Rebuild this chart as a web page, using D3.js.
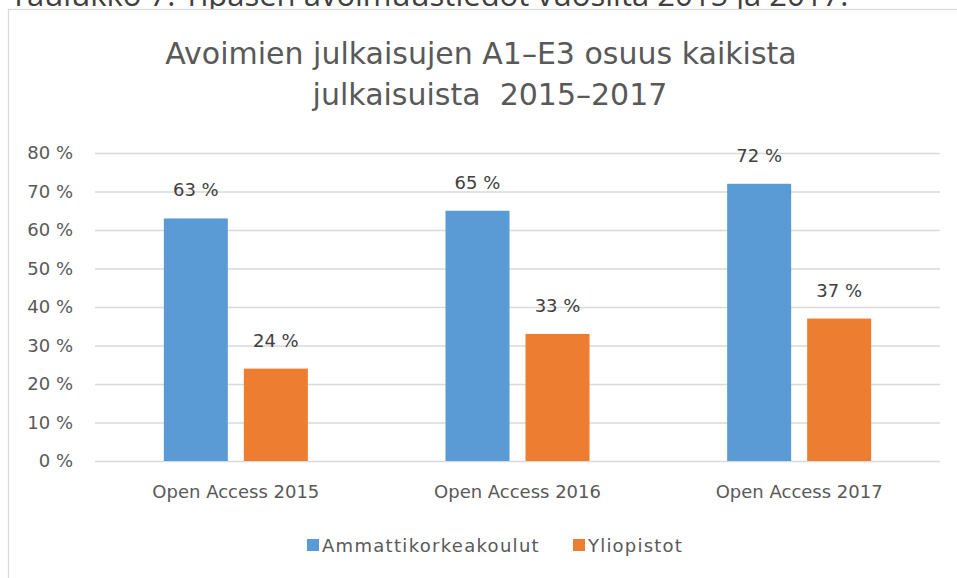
<!DOCTYPE html>
<html><head><meta charset="utf-8">
<script src="https://cdn.jsdelivr.net/npm/d3@7"></script>
<style>
html,body{margin:0;padding:0;background:#fff;overflow:hidden;}
svg{display:block;}
</style></head>
<body>
<svg id="c" width="957" height="578"></svg>
<script>
const categories = ["Open Access 2015", "Open Access 2016", "Open Access 2017"];
const seriesNames = ["Ammattikorkeakoulut", "Yliopistot"];
const amk = [63, 65, 72];
const yliopistot = [24, 33, 37];
const yTicks = [0, 10, 20, 30, 40, 50, 60, 70, 80];
const colors = ["#5b9bd5", "#ed7d31"];
const titleLines = ["Avoimien julkaisujen A1–E3 osuus kaikista", "julkaisuista  2015–2017"];
const caption = "Taulukko 7. Tipasen avoimuustiedot vuosilta 2015 ja 2017.";

const series = [amk, yliopistot];
const font = "'DejaVu Sans', sans-serif";
const svg = d3.select("#c");

// caption partially cut off at top (as in the source screenshot)
svg.append("text").attr("x", 10).attr("y", 6)
  .attr("font-family", "'Open Sans', sans-serif").attr("font-size", 31)
  .attr("fill", "#404040").text(caption);

// chart frame
svg.append("rect").attr("x", 8.5).attr("y", 9.5).attr("width", 960).attr("height", 600)
  .attr("fill", "#fff").attr("stroke", "#d9d9d9").attr("stroke-width", 1.2);

// title
svg.append("g").selectAll("text").data(titleLines).join("text")
  .attr("x", (d, i) => i === 0 ? 481 : 490)
  .attr("y", (d, i) => 64 + i * 41)
  .attr("text-anchor", "middle")
  .attr("font-family", font).attr("font-size", 30).attr("fill", "#595959")
  .style("white-space", "pre")
  .text(d => d);

const pL = 95, pR = 940, pT = 153, pB = 461;
const x0 = d3.scaleBand().domain(categories).range([pL, pR]).paddingInner(0).paddingOuter(0);
const x1 = d3.scaleBand().domain(seriesNames).range([0, x0.bandwidth()]).paddingInner(0.2).paddingOuter(0.86);
const y = d3.scaleLinear().domain([0, 80]).range([pB, pT]);

// gridlines + y labels
const yAxis = d3.axisLeft(y).tickValues(yTicks).tickSize(-(pR - pL)).tickPadding(22)
  .tickFormat(d => d + " %");
const gy = svg.append("g").attr("transform", `translate(${pL},0)`).call(yAxis);
gy.select(".domain").remove();
gy.selectAll(".tick line").attr("stroke", "#d9d9d9").attr("stroke-width", 1.5);
gy.selectAll(".tick text").attr("font-family", font).attr("font-size", 18).attr("fill", "#595959");

// bars
const groups = svg.append("g").selectAll("g").data(categories).join("g")
  .attr("transform", d => `translate(${x0(d)},0)`);
const cells = (d, i) => seriesNames.map((s, j) => ({s, v: series[j][i], j}));
groups.selectAll("rect").data(cells).join("rect")
  .attr("x", d => x1(d.s)).attr("width", x1.bandwidth())
  .attr("y", d => y(d.v)).attr("height", d => y(0) - y(d.v))
  .attr("fill", d => colors[d.j]);
groups.selectAll("text").data(cells).join("text")
  .attr("x", d => x1(d.s) + x1.bandwidth() / 2).attr("y", d => y(d.v) - 22)
  .attr("text-anchor", "middle").attr("font-family", font).attr("font-size", 18).attr("fill", "#404040")
  .text(d => d.v + " %");

// x axis labels
const xAxis = d3.axisBottom(x0).tickSize(0).tickPadding(24);
const gx = svg.append("g").attr("transform", `translate(0,${pB})`).call(xAxis);
gx.select(".domain").remove();
gx.selectAll(".tick text").attr("font-family", font).attr("font-size", 18).attr("fill", "#595959");

// legend
const legendX = [307, 573];
const lg = svg.append("g").selectAll("g").data(seriesNames).join("g")
  .attr("transform", (d, i) => `translate(${legendX[i]},539)`);
lg.append("rect").attr("width", 12).attr("height", 12).attr("fill", (d, i) => colors[i]);
lg.append("text").attr("x", 15).attr("y", 13).attr("font-family", font).attr("font-size", 18)
  .attr("letter-spacing", (d, i) => i === 0 ? 1.3 : 1.2)
  .attr("fill", "#595959").text(d => d);
</script>
</body></html>
